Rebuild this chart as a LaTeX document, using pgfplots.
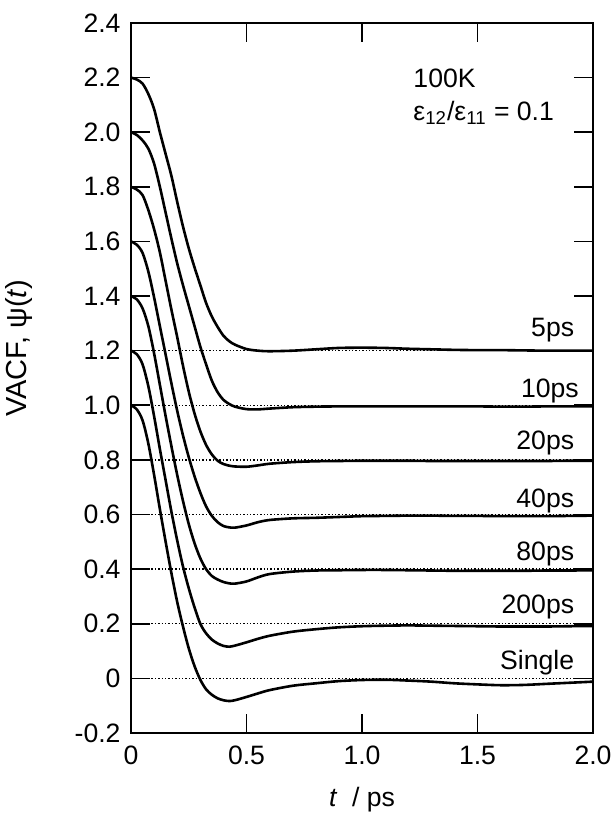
\documentclass[border=0pt]{standalone}
\usepackage{pgfplots}
\usepackage{pgfplotstable}
\pgfplotsset{compat=1.18}
\usepackage{fontspec}
\setmainfont{Liberation Sans}
\pgfplotstableread{
t s5 s10 s20 s40 s80 s200 s1
0 2.2 2.0 1.8 1.6 1.4 1.2 1.0
0.025 2.193 1.99 1.79 1.588 1.388 1.187 0.985
0.05 2.178 1.97 1.77 1.558 1.355 1.15 0.945
0.075 2.14 1.94 1.715 1.49 1.29 1.07 0.86
0.1 2.085 1.885 1.645 1.395 1.19 0.96 0.745
0.125 2.0 1.8 1.56 1.29 1.075 0.84 0.62
0.15 1.92 1.705 1.455 1.185 0.96 0.725 0.50
0.175 1.84 1.61 1.35 1.08 0.85 0.61 0.385
0.2 1.745 1.52 1.25 0.98 0.745 0.505 0.28
0.225 1.655 1.44 1.145 0.89 0.65 0.41 0.19
0.25 1.575 1.365 1.05 0.81 0.565 0.33 0.11
0.275 1.505 1.29 0.97 0.74 0.495 0.26 0.045
0.3 1.44 1.215 0.905 0.68 0.44 0.2 -0.005
0.325 1.375 1.15 0.855 0.63 0.4 0.165 -0.04
0.35 1.325 1.09 0.82 0.595 0.375 0.142 -0.06
0.375 1.287 1.048 0.797 0.572 0.362 0.128 -0.073
0.4 1.255 1.02 0.785 0.558 0.353 0.119 -0.08
0.425 1.235 1.005 0.779 0.553 0.348 0.116 -0.083
0.45 1.222 0.995 0.776 0.552 0.347 0.12 -0.08
0.5 1.206 0.986 0.775 0.56 0.355 0.132 -0.068
0.55 1.2 0.985 0.78 0.572 0.37 0.145 -0.055
0.6 1.198 0.988 0.786 0.58 0.382 0.156 -0.043
0.7 1.2 0.993 0.792 0.586 0.391 0.171 -0.027
0.8 1.205 0.995 0.795 0.588 0.395 0.18 -0.018
0.9 1.21 0.996 0.796 0.591 0.396 0.187 -0.01
1.0 1.211 0.996 0.797 0.594 0.397 0.191 -0.006
1.1 1.21 0.996 0.797 0.595 0.397 0.193 -0.005
1.2 1.207 0.996 0.797 0.596 0.396 0.194 -0.008
1.3 1.205 0.996 0.796 0.596 0.395 0.193 -0.012
1.4 1.203 0.996 0.796 0.595 0.394 0.192 -0.018
1.5 1.202 0.996 0.796 0.595 0.394 0.191 -0.022
1.6 1.202 0.995 0.796 0.594 0.394 0.19 -0.025
1.7 1.201 0.995 0.796 0.594 0.394 0.19 -0.024
1.8 1.2 0.996 0.796 0.594 0.395 0.19 -0.02
1.9 1.2 0.996 0.797 0.595 0.395 0.191 -0.016
2.0 1.2 0.996 0.797 0.596 0.396 0.192 -0.012
}\vacf
\begin{document}
\begin{tikzpicture}
\begin{axis}[
  name=ax,
  width=231pt, height=355pt, scale only axis,
  xmin=0, xmax=2, ymin=-0.2, ymax=2.4,
  clip=false,
  xtick={0,0.5,1,1.5,2},
  xticklabels={0,0.5,1.0,1.5,2.0},
  ytick={-0.2,0,0.2,0.4,0.6,0.8,1.0,1.2,1.4,1.6,1.8,2.0,2.2,2.4},
  yticklabels={-0.2,0,0.2,0.4,0.6,0.8,1.0,1.2,1.4,1.6,1.8,2.0,2.2,2.4},
  minor tick num=0,
  tick align=inside,
  major tick length=9.5pt,
  tick style={line width=0.8pt, black},
  axis line style={line width=0.9pt},
  ticklabel style={font=\fontsize{13.3}{15}\selectfont},
  xticklabel style={yshift=-3pt},
  yticklabel style={xshift=-1.7pt},
  xlabel={\textit{t}\ \ / ps},
  ylabel={VACF, ψ(\textit{t})},
  xlabel style={font=\fontsize{13.3}{15}\selectfont, at={(axis description cs:0.5,-0.094)}, anchor=center},
  ylabel style={font=\fontsize{14.5}{16}\selectfont, at={(axis description cs:-0.243,0.542)}, anchor=center},
]
\addplot[black, densely dotted, line width=0.7pt] coordinates {(0,0) (2,0)};
\addplot[black, densely dotted, line width=0.7pt] coordinates {(0,0.2) (2,0.2)};
\addplot[black, densely dotted, line width=0.7pt] coordinates {(0,0.4) (2,0.4)};
\addplot[black, densely dotted, line width=0.7pt] coordinates {(0,0.6) (2,0.6)};
\addplot[black, densely dotted, line width=0.7pt] coordinates {(0,0.8) (2,0.8)};
\addplot[black, densely dotted, line width=0.7pt] coordinates {(0,1.0) (2,1.0)};
\addplot[black, densely dotted, line width=0.7pt] coordinates {(0,1.2) (2,1.2)};
\addplot[black, line width=1.3pt, smooth] table[x=t, y=s5] {\vacf};
\addplot[black, line width=1.3pt, smooth] table[x=t, y=s10] {\vacf};
\addplot[black, line width=1.3pt, smooth] table[x=t, y=s20] {\vacf};
\addplot[black, line width=1.3pt, smooth] table[x=t, y=s40] {\vacf};
\addplot[black, line width=1.3pt, smooth] table[x=t, y=s80] {\vacf};
\addplot[black, line width=1.3pt, smooth] table[x=t, y=s200] {\vacf};
\addplot[black, line width=1.3pt, smooth] table[x=t, y=s1] {\vacf};
\begin{scope}[every node/.style={inner sep=0pt, font=\fontsize{13.3}{15}\selectfont}]
\node[anchor=base east] at (axis cs:1.92,1.252) {5ps};
\node[anchor=base east] at (axis cs:1.94,1.028) {10ps};
\node[anchor=base east] at (axis cs:1.92,0.839) {20ps};
\node[anchor=base east] at (axis cs:1.92,0.626) {40ps};
\node[anchor=base east] at (axis cs:1.92,0.433) {80ps};
\node[anchor=base east] at (axis cs:1.92,0.238) {200ps};
\node[anchor=base east] at (axis cs:1.92,0.034) {Single};
\node[anchor=base west] at (axis cs:1.221,2.165) {100K};
\node[anchor=base west] at (axis cs:1.221,2.044) {ε\textsubscript{12}/ε\textsubscript{11} = 0.1};
\end{scope}
\end{axis}
\pgfresetboundingbox
\path[use as bounding box] ([xshift=-65.5pt,yshift=-43.5pt]ax.south west) rectangle ([xshift=10pt,yshift=11.5pt]ax.north east);
\end{tikzpicture}
\end{document}
